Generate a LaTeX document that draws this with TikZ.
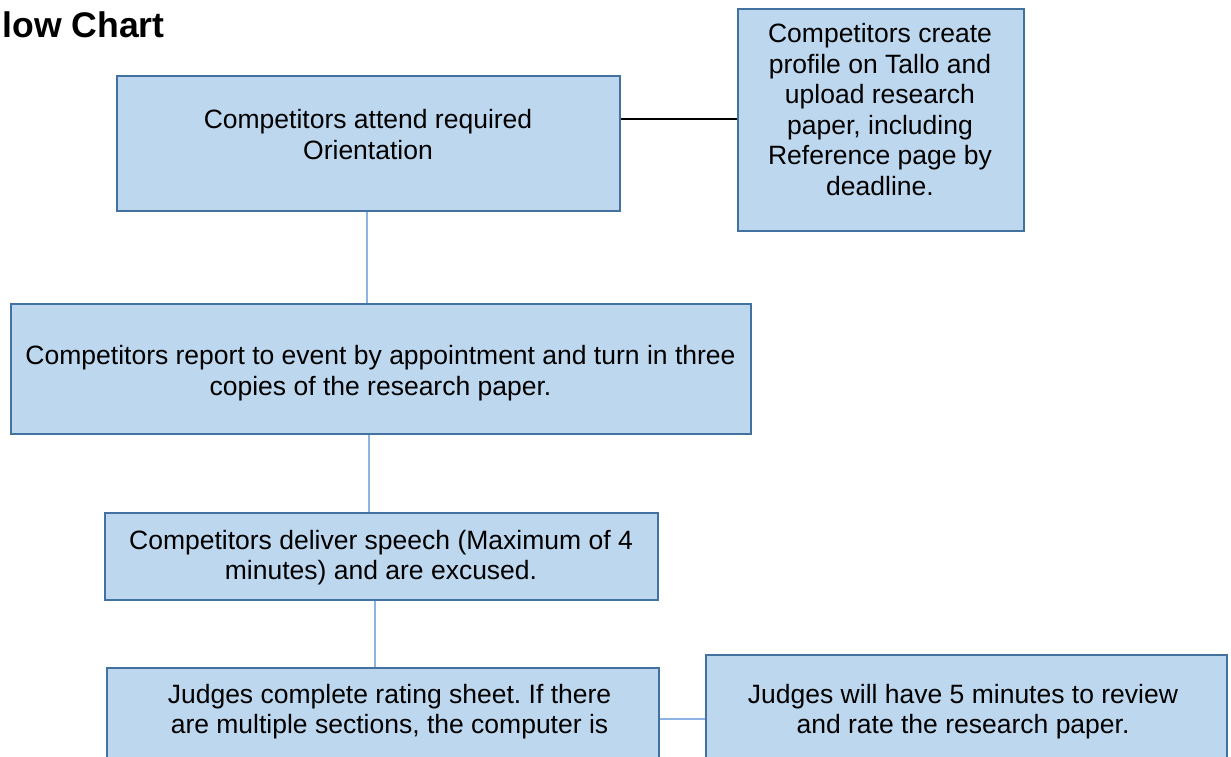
\documentclass[tikz,border=0pt]{standalone}
\usepackage{fontspec}
\setmainfont{Liberation Sans}
\frenchspacing
\definecolor{boxfill}{RGB}{189,215,238}
\definecolor{boxline}{RGB}{67,114,160}
\definecolor{linklight}{RGB}{141,180,226}
\tikzset{
	flowbox/.style={draw=boxline, line width=1.25pt, fill=boxfill, inner sep=0pt},
	flowtext/.style={align=center, inner sep=0pt, font=\fontsize{13.25}{15.3}\selectfont},
	link/.style={draw=linklight, line width=1pt},
}
\begin{document}
\begin{tikzpicture}[x=0.5pt,y=-0.5pt]
	\useasboundingbox (0,0) rectangle (1231,756);
	\node[anchor=base west, inner sep=0pt, font=\bfseries\fontsize{17.8}{20}\selectfont] (title) at (2,37) {low Chart};
	% boxes
	\node[flowbox, minimum width=251.5pt, minimum height=67.5pt] (orient) at (368.5,143.5) {};
	\node[flowbox, minimum width=143pt, minimum height=111pt] (tallo) at (881,120) {};
	\node[flowbox, minimum width=370pt, minimum height=65pt] (report) at (381,369) {};
	\node[flowbox, minimum width=276.5pt, minimum height=43.5pt] (speech) at (381.5,556.5) {};
	\node[flowbox, minimum width=276pt, minimum height=61pt] (rating) at (383,729) {};
	\node[flowbox, minimum width=260.5pt, minimum height=67.5pt] (review) at (966.5,722.5) {};
	% texts
	\node[flowtext] (orient-t) at (368,134.5) {Competitors attend required\\Orientation};
	\node[flowtext] (tallo-t) at (880,109.5) {Competitors create\\profile on Tallo and\\upload research\\paper, including\\Reference page by\\deadline.};
	\node[flowtext] (report-t) at (380.5,373) {Competitors report to event by appointment and turn in three\\copies of the research paper.};
	\node[flowtext] (speech-t) at (381,557.5) {Competitors deliver speech (Maximum of 4\\minutes) and are excused.};
	\node[flowtext] (rating-t) at (389.5,711.5) {Judges complete rating sheet. If there\\are multiple sections, the computer is};
	\node[flowtext] (review-t) at (963,711.5) {Judges will have 5 minutes to review\\and rate the research paper.};
	% connectors
	\draw[line width=1pt] (orient.east) ++(0,-24.5) coordinate (o-e) -- (o-e -| tallo.west);
	\draw[link] (orient.south) ++(-1.5,0) coordinate (o-s) -- (o-s |- report.north);
	\draw[link] (report.south) ++(-12,0) coordinate (r-s) -- (r-s |- speech.north);
	\draw[link] (speech.south) ++(-6.5,0) coordinate (s-s) -- (s-s |- rating.north);
	\draw[link] (rating.east) ++(0,-10) coordinate (j-e) -- (j-e -| review.west);
\end{tikzpicture}
\end{document}
